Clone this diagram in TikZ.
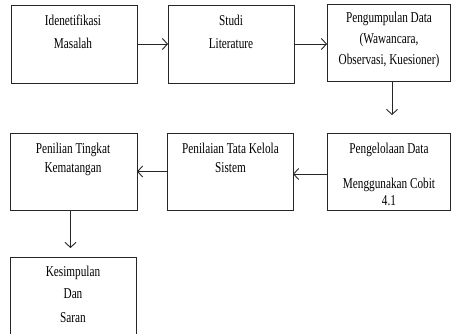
\documentclass[tikz,border=0pt]{standalone}
\usepackage{fontspec}
\setmainfont{Liberation Serif}[FakeStretch=0.75]
\usetikzlibrary{arrows.meta}
\begin{document}
\begin{tikzpicture}[x=1pt,y=-1pt,
  box/.style={draw=black!85, line width=0.9pt, inner sep=0pt, outer sep=0pt},
  txt/.style={anchor=base, inner sep=0pt, font=\fontsize{15}{17}\selectfont, text=black},
  arr/.style={draw=black!85, line width=0.9pt, -{Straight Barb[length=5pt,width=11pt,line width=0.9pt]}}]
\clip (0,0) rectangle (452,334);
\fill[white] (0,0) rectangle (452,334);
% boxes
\node[box, minimum width=126pt, minimum height=78pt] (b1) at (74,44) {};
\node[box, minimum width=126pt, minimum height=78pt] (b2) at (231,44) {};
\node[box, minimum width=123pt, minimum height=77pt] (b3) at (388.5,42.5) {};
\node[box, minimum width=127pt, minimum height=77pt] (b4) at (73.5,171.5) {};
\node[box, minimum width=126pt, minimum height=77pt] (b5) at (230,171.5) {};
\node[box, minimum width=123pt, minimum height=77pt] (b6) at (388.5,171.5) {};
\node[box, minimum width=126pt, minimum height=92pt] (b7) at (73,303) {};
% texts
\node[txt] (t1a) at (73,26) {Idenetifikasi};
\node[txt] (t1b) at (73,49) {Masalah};
\node[txt] (t2a) at (231,26) {Studi};
\node[txt] (t2b) at (231,49) {Literature};
\node[txt] (t3a) at (389,23) {Pengumpulan Data};
\node[txt] (t3b) at (389,44) {(Wawancara,};
\node[txt] (t3c) at (389,65) {Observasi, Kuesioner)};
\node[txt] (t4a) at (73,153) {Penilian Tingkat};
\node[txt] (t4b) at (73,172) {Kematangan};
\node[txt] (t5a) at (230.5,153) {Penilaian Tata Kelola};
\node[txt] (t5b) at (230.5,172) {Sistem};
\node[txt] (t6a) at (389,153) {Pengelolaan Data};
\node[txt] (t6b) at (389,188) {Menggunakan Cobit};
\node[txt] (t6c) at (389,205) {4.1};
\node[txt] (t7a) at (73,276) {Kesimpulan};
\node[txt] (t7b) at (73,298) {Dan};
\node[txt] (t7c) at (73,322) {Saran};
% connectors
\coordinate (d1) at (392,115);
\coordinate (d2) at (70.5,248);
\draw[arr] (b1.east) -- (b1.east -| b2.west);
\draw[arr] (b2.east) -- (b2.east -| b3.west);
\draw[arr] (b3.south -| d1) -- (d1);
\draw[arr] (b6.west |- 0,174) -- (b5.east |- 0,174);
\draw[arr] (b5.west) -- (b5.west -| b4.east);
\draw[arr] (b4.south -| d2) -- (d2);
\end{tikzpicture}
\end{document}
